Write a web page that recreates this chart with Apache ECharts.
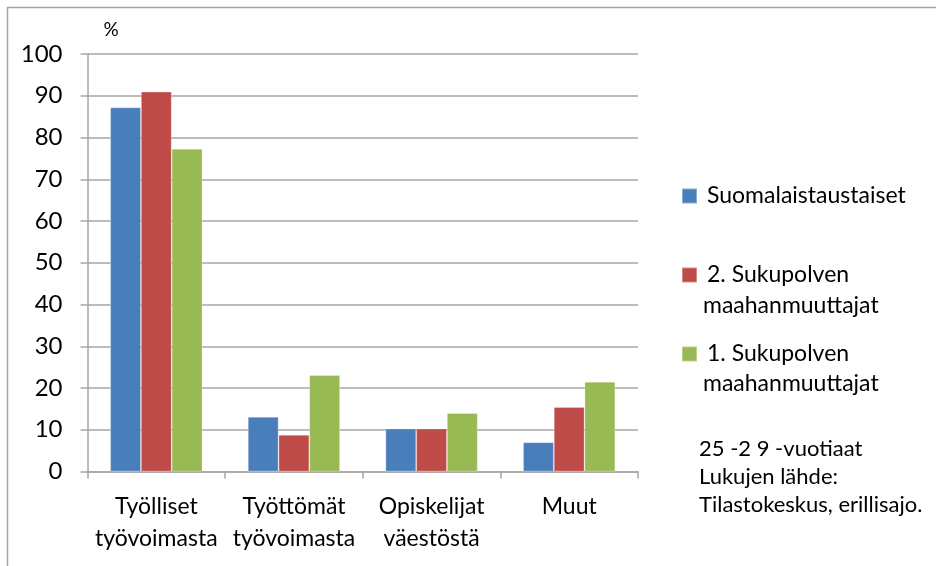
<!DOCTYPE html>
<html>
<head>
<meta charset="utf-8">
<script src="https://cdn.jsdelivr.net/npm/echarts@6/dist/echarts.min.js"></script>
<style>
  html, body { margin: 0; padding: 0; background: #fff; }
  #chart { width: 936px; height: 566px; }
</style>
</head>
<body>
<div id="chart"></div>
<script>
const categories = ["Työlliset\ntyövoimasta", "Työttömät\ntyövoimasta", "Opiskelijat\nväestöstä", "Muut"];
const suomalaistaustaiset = [87.2, 13.1, 10.3, 7.0];
const toinenSukupolvi = [91.0, 8.8, 10.3, 15.4];
const ensimmainenSukupolvi = [77.3, 23.1, 14.0, 21.5];
const seriesNames = ["Suomalaistaustaiset", "2. Sukupolven maahanmuuttajat", "1. Sukupolven maahanmuuttajat"];
const noteLines = ["25 -2 9 -vuotiaat", "Lukujen lähde:", "Tilastokeskus, erillisajo."];

const font = "Lato, 'Open Sans', sans-serif";
const gridColor = "#a6a6a6";
const colors = ["#4a7ebb", "#be4b48", "#98b954"];

const chart = echarts.init(document.getElementById("chart"));

// each legend item on its own, so the square sits next to the first line
function legendFor(i, top) {
  return {
    left: 676,
    top: top,
    orient: "vertical",
    data: [seriesNames[i]],
    icon: "rect",
    itemWidth: 15,
    itemHeight: 15,
    itemGap: 0,
    selectedMode: false,
    formatter: function (name) {
      return name.split(" maahanmuuttajat")[0];
    },
    textStyle: { fontFamily: font, fontSize: 23, color: "#000", padding: [0, 0, 0, 5] }
  };
}

const option = {
  animation: false,
  color: colors,
  grid: { left: 87.5, right: 298, top: 54, bottom: 94.5 },
  legend: [legendFor(0, 179.5), legendFor(1, 258.5), legendFor(2, 337.5)],
  graphic: [
    {
      type: "rect",
      shape: { x: 7.5, y: 7.5, width: 940, height: 570 },
      style: { fill: "none", stroke: gridColor, lineWidth: 1.5 },
      silent: true
    },
    {
      type: "text", left: 703, top: 294.5,
      style: { text: "maahanmuuttajat", font: "23px " + font, fill: "#000" }
    },
    {
      type: "text", left: 703, top: 372.5,
      style: { text: "maahanmuuttajat", font: "23px " + font, fill: "#000" }
    },
    {
      type: "text", left: 699, top: 435,
      style: { text: noteLines.join("\n"), font: "22px " + font, fill: "#000", lineHeight: 28 }
    }
  ],
  xAxis: {
    type: "category",
    data: categories,
    axisLine: { lineStyle: { color: gridColor, width: 1.5 } },
    axisTick: { show: true, length: 7, lineStyle: { color: gridColor, width: 1.5 } },
    axisLabel: { interval: 0, color: "#000", fontFamily: font, fontSize: 23, lineHeight: 32, margin: 19 }
  },
  yAxis: {
    type: "value",
    min: 0,
    max: 100,
    interval: 10,
    name: "%",
    nameLocation: "end",
    nameGap: 15,
    nameTextStyle: { color: "#000", fontFamily: font, fontSize: 19, align: "left", padding: [0, 0, 0, 16] },
    axisLine: { show: true, lineStyle: { color: gridColor, width: 1.5 } },
    axisTick: { show: true, length: 7, lineStyle: { color: gridColor, width: 1.5 } },
    axisLabel: { color: "#000", fontFamily: font, fontSize: 24, margin: 25 },
    splitLine: { lineStyle: { color: gridColor, width: 1.5 } }
  },
  series: [
    {
      name: seriesNames[0], type: "bar", data: suomalaistaustaiset,
      barGap: "0%", barCategoryGap: "33%",
      itemStyle: { borderColor: "rgba(255,255,255,0.35)", borderWidth: 0.8 }
    },
    {
      name: seriesNames[1], type: "bar", data: toinenSukupolvi,
      barGap: "0%", barCategoryGap: "33%",
      itemStyle: { borderColor: "rgba(255,255,255,0.35)", borderWidth: 0.8 }
    },
    {
      name: seriesNames[2], type: "bar", data: ensimmainenSukupolvi,
      barGap: "0%", barCategoryGap: "33%",
      itemStyle: { borderColor: "rgba(255,255,255,0.35)", borderWidth: 0.8 }
    }
  ]
};

chart.setOption(option);
window.addEventListener("resize", () => {
  chart.resize();
});
</script>
</body>
</html>
